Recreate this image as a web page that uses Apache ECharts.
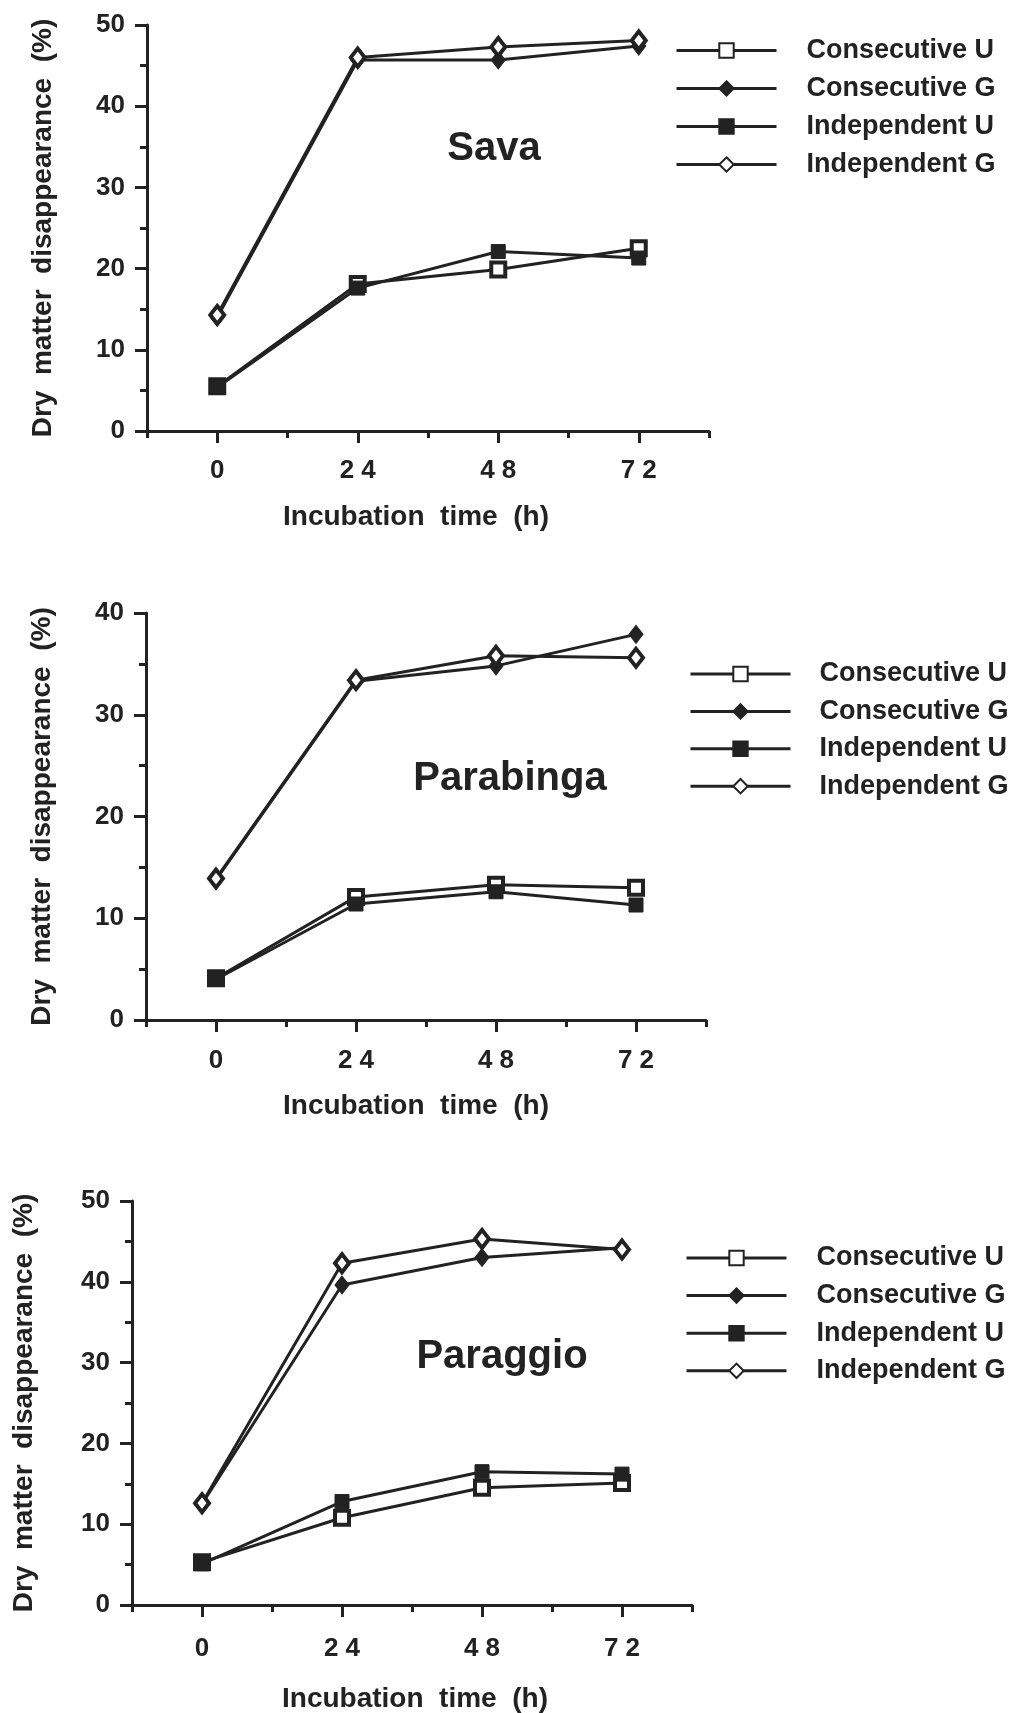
<!DOCTYPE html>
<html>
<head>
<meta charset="utf-8">
<title>Dry matter disappearance</title>
<script src="https://cdn.jsdelivr.net/npm/echarts@6/dist/echarts.min.js"></script>
<style>
  html, body { margin: 0; padding: 0; background: #fff; }
  #chart { width: 1013px; height: 1713px; }
</style>
</head>
<body>
<div id="chart"></div>
<script>
/* ── data ── */
const HOURS = [0, 24, 48, 72]
const SERIES_NAMES = ['Consecutive U', 'Consecutive G', 'Independent U', 'Independent G']
const X_LABEL_TICKS = [0, 24, 48, 72]
const X_MINOR_TICKS = [-12, 12, 36, 60, 84]

// Sava
const SAVA_CONS_U = [5.5, 18.1, 19.9, 22.5]
const SAVA_CONS_G = [14.0, 45.7, 45.7, 47.4]
const SAVA_IND_U  = [5.4, 17.6, 22.1, 21.3]
const SAVA_IND_G  = [14.3, 46.0, 47.3, 48.1]

// Parabinga
const PARA_CONS_U = [4.1, 12.1, 13.3, 13.0]
const PARA_CONS_G = [13.8, 33.3, 34.8, 37.9]
const PARA_IND_U  = [4.0, 11.4, 12.6, 11.3]
const PARA_IND_G  = [13.9, 33.4, 35.8, 35.6]

// Paraggio
const PARAG_CONS_U = [5.3, 10.8, 14.5, 15.1]
const PARAG_CONS_G = [12.5, 39.6, 43.0, 44.2]
const PARAG_IND_U  = [5.1, 12.8, 16.5, 16.2]
const PARAG_IND_G  = [12.6, 42.3, 45.3, 44.0]

const FONT = '"Liberation Sans", Arial, Helvetica, sans-serif'
const INK = '#222'

/* ── panel layout ── */
const PANELS = [
  { title: 'Sava',      yMax: 50, series: [SAVA_CONS_U, SAVA_CONS_G, SAVA_IND_U, SAVA_IND_G],
    grid: { left: 147, top: 25, width: 562, height: 406 }, titleAt: [494, 149],
    legend: { left: 675, top: 36.5, itemGap: 10, textPad: 25 }, xTitleAt: [416, 517], yGap: 90, xMargin: 27 },
  { title: 'Parabinga', yMax: 40, series: [PARA_CONS_U, PARA_CONS_G, PARA_IND_U, PARA_IND_G],
    grid: { left: 146, top: 613, width: 560, height: 407 }, titleAt: [510, 779],
    legend: { left: 689, top: 660, itemGap: 9.4, textPad: 24 }, xTitleAt: [416, 1106], yGap: 90, xMargin: 28 },
  { title: 'Paraggio',  yMax: 50, series: [PARAG_CONS_U, PARAG_CONS_G, PARAG_IND_U, PARAG_IND_G],
    grid: { left: 132, top: 1201, width: 560, height: 404 }, titleAt: [502, 1357],
    legend: { left: 685, top: 1244, itemGap: 9.6, textPad: 25 }, xTitleAt: [415, 1699], yGap: 94, xMargin: 31 },
]

// marker per series: open square, filled diamond, filled square, open diamond
const MARKS = [
  { symbol: 'rect',    symbolSize: 14,       itemStyle: { color: '#fff', borderColor: INK, borderWidth: 4 } },
  { symbol: 'diamond', symbolSize: [14, 18], itemStyle: { color: INK, borderColor: INK, borderWidth: 1 } },
  { symbol: 'rect',    symbolSize: 14,       itemStyle: { color: INK, borderColor: INK, borderWidth: 1 } },
  { symbol: 'diamond', symbolSize: [14, 18], itemStyle: { color: '#fff', borderColor: INK, borderWidth: 4 } },
]

const labelText = { color: INK, fontFamily: FONT, fontWeight: 'bold', fontSize: 26 }

const grid = [], xAxis = [], yAxis = [], series = [], legend = [], graphic = []

PANELS.forEach((p, pi) => {
  grid.push(Object.assign({ containLabel: false }, p.grid))

  // main x axis: labelled ticks 0/24/48/72
  xAxis.push({
    type: 'value', gridIndex: pi, min: -12, max: 84, interval: 12, position: 'bottom',
    axisLine: { show: true, onZero: false, lineStyle: { color: INK, width: 3 } },
    axisTick: { show: true, customValues: X_LABEL_TICKS, length: 12, lineStyle: { color: INK, width: 3 } },
    axisLabel: Object.assign({ customValues: X_LABEL_TICKS, margin: p.xMargin,
      formatter: v => String(v).split('').join(' ') }, labelText),
    splitLine: { show: false },
  })
  // second x axis only for the short in-between ticks
  xAxis.push({
    type: 'value', gridIndex: pi, min: -12, max: 84, interval: 12, position: 'bottom', offset: 0,
    axisLine: { show: false },
    axisTick: { show: true, customValues: X_MINOR_TICKS, length: 7, lineStyle: { color: INK, width: 3 } },
    axisLabel: { show: false },
    splitLine: { show: false },
  })

  yAxis.push({
    type: 'value', gridIndex: pi, min: 0, max: p.yMax, interval: 10,
    name: 'Dry  matter  disappearance  (%)', nameLocation: 'middle', nameRotate: 90, nameGap: p.yGap,
    nameTextStyle: { color: INK, fontFamily: FONT, fontWeight: 'bold', fontSize: 28 },
    axisLine: { show: true, onZero: false, lineStyle: { color: INK, width: 3 } },
    axisTick: { show: true, length: 12, lineStyle: { color: INK, width: 3 } },
    minorTick: { show: true, splitNumber: 2, length: 7, lineStyle: { color: INK, width: 3 } },
    axisLabel: Object.assign({ margin: 22 }, labelText),
    splitLine: { show: false },
  })

  p.series.forEach((vals, si) => {
    series.push(Object.assign({
      name: SERIES_NAMES[si],
      type: 'line',
      xAxisIndex: pi * 2,
      yAxisIndex: pi,
      data: HOURS.map((h, i) => [h, vals[i]]),
      showAllSymbol: true,
      animation: false,
      lineStyle: { color: INK, width: 3 },
      z: 2 + si,
    }, MARKS[si]))
  })

  legend.push({
    orient: 'vertical', left: p.legend.left, top: p.legend.top, itemGap: p.legend.itemGap,
    padding: 0, itemWidth: 100, itemHeight: 18, selectedMode: false,
    data: SERIES_NAMES,
    lineStyle: { width: 3, color: INK },
    textStyle: { color: INK, fontFamily: FONT, fontWeight: 'bold', fontSize: 27, lineHeight: 28,
      padding: [0, 0, 0, p.legend.textPad] },
  })

  graphic.push({
    type: 'text', x: p.titleAt[0], y: p.titleAt[1], silent: true,
    style: { text: p.title, fill: INK, font: `bold 40px ${FONT}`, align: 'center', verticalAlign: 'middle' },
  })
  graphic.push({
    type: 'text', x: p.xTitleAt[0], y: p.xTitleAt[1], silent: true,
    style: { text: 'Incubation  time  (h)', fill: INK, font: `bold 28px ${FONT}`, align: 'center', verticalAlign: 'middle' },
  })
})

const chart = echarts.init(document.getElementById('chart'), null, { renderer: 'canvas' })
chart.setOption({
  backgroundColor: '#fff',
  animation: false,
  grid, xAxis, yAxis, series, legend, graphic,
})
</script>
</body>
</html>
